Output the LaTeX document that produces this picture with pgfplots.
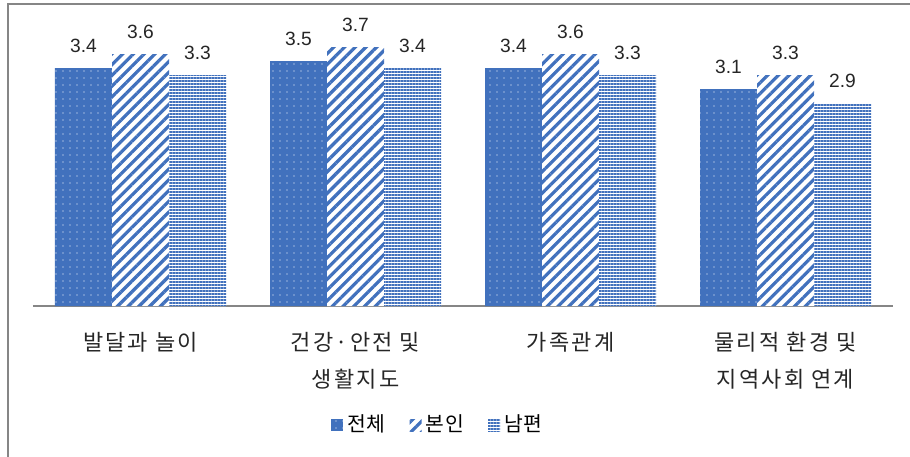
\documentclass[border=0pt]{standalone}
\usepackage{pgfplots}
\pgfplotsset{compat=1.18}
\usepackage{fontspec}
\setmainfont{Liberation Sans}
\newfontfamily\kr[LetterSpace=10]{Noto Sans CJK KR}
\newfontfamily\krl[LetterSpace=4]{Noto Sans CJK KR}
\usetikzlibrary{patterns.meta}
\definecolor{barblue}{RGB}{65,113,189}
\definecolor{bordergray}{RGB}{134,134,134}
\begin{document}
\begin{tikzpicture}
\useasboundingbox (-16.5pt,-75pt) rectangle (438.5pt,153pt);
\draw[bordergray, line width=0.8pt] (-12.5pt,-76pt) -- (-12.5pt,151pt) -- (440pt,151pt);
\begin{axis}[
  at={(0pt,0pt)}, anchor=south west,
  scale only axis, width=430pt, height=140pt,
  ymin=0, ymax=4, xmin=-0.5, xmax=3.5,
  axis y line=none,
  axis x line*=bottom,
  x axis line style={-, draw=bordergray, line width=0.8pt},
  xtick={0,1,2,3},
  xticklabels={{발달과 놀이},{건강·안전 및\\생활지도},{가족관계},{물리적 환경 및\\지역사회 연계}},
  xtick style={draw=none},
  major tick length=0pt,
  xticklabel style={font=\kr\fontsize{11}{18.5}\selectfont, align=center, anchor=north, yshift=-9.5pt, text=black!85},
  ybar=0pt, bar width=28.5pt,
  /pgf/number format/assume math mode=true,
  /pgf/number format/.cd, fixed, precision=1, fixed zerofill, /pgfplots/.cd,
  nodes near coords,
  nodes near coords style={font=\fontsize{9.6}{10}\selectfont, anchor=south, yshift=4pt, text=black!85, draw=none, fill=none},
  legend style={at={(0.472,-0.425)}, anchor=center, draw=none, fill=none, legend columns=3,
    font=\krl\fontsize{10.2}{12}\selectfont,
    /tikz/every even column/.append style={column sep=10pt}},
  legend image code/.code={\draw[#1, draw=none] (0pt,-3pt) rectangle (6pt,3pt);},
  clip=false,
]
\addplot[fill=barblue, draw=none, postaction={pattern={Dots[distance=3.5pt, radius=0.35pt]}, pattern color=white}]
  coordinates {(0,3.4) (1,3.5) (2,3.4) (3,3.1)};
\addplot[fill=white, draw=none, postaction={pattern={Lines[angle=45, distance=3.8pt, line width=1.6pt]}, pattern color=barblue}]
  coordinates {(0,3.6) (1,3.7) (2,3.6) (3,3.3)};
\addplot[fill=white, draw=none, postaction={pattern={Lines[angle=0, distance=1.5pt, line width=0.6pt]}, pattern color=barblue}]
  coordinates {(0,3.3) (1,3.4) (2,3.3) (3,2.9)};
\legend{전체,본인,남편}
\end{axis}
\end{tikzpicture}
\end{document}
